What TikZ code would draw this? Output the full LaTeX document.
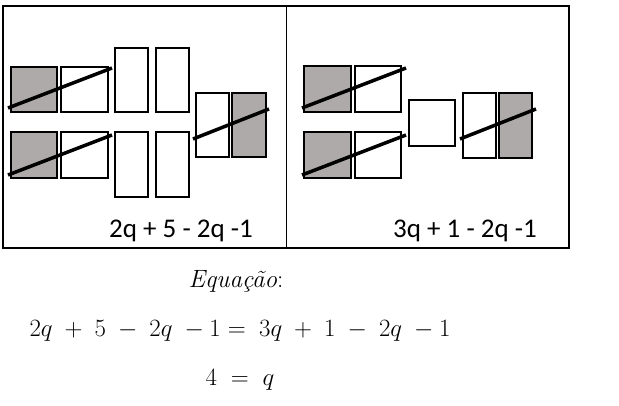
\documentclass[tikz,border=0pt]{standalone}
\usepackage{fontspec}
\newfontfamily\boxfont{Carlito}
\usetikzlibrary{positioning}

\definecolor{tilegray}{RGB}{174,170,170}
\newcommand{\eqsp}{\hspace{6.5pt}}

\begin{document}
\begin{tikzpicture}[
        x=1pt, y=-1pt,
        postile/.style={draw, line width=2pt, fill=white},
        negtile/.style={draw, line width=2pt, fill=tilegray},
        strike/.style={line width=3.5pt},
        frame/.style={line width=2pt},
        tally/.style={font=\boxfont\fontsize{27}{30}\selectfont, inner sep=0pt},
        eqn/.style={font=\fontsize{26}{30}\selectfont, inner sep=0pt}
    ]
    \useasboundingbox (0,0) rectangle (619,405);

    % Frame
    \draw[frame] (3,6) rectangle (569,248);
    \draw[line width=1pt] (286,6) -- (286,248);

    % Left side: 2q + 5 - 2q - 1
    \draw[negtile] (11,67) rectangle (57,112);
    \draw[postile] (61,67) rectangle (108,112);
    \draw[negtile] (11,132) rectangle (57,178);
    \draw[postile] (61,132) rectangle (108,178);
    \draw[postile] (115,48) rectangle (148,112);
    \draw[postile] (156,48) rectangle (189,112);
    \draw[postile] (115,132) rectangle (148,197);
    \draw[postile] (156,132) rectangle (189,197);
    \draw[postile] (196,93) rectangle (229,157);
    \draw[negtile] (232,93) rectangle (266,157);
    \draw[strike] (8,108) -- (112,68);
    \draw[strike] (8,175) -- (112,135);
    \draw[strike] (193,139) -- (269,109);

    % Right side: 3q + 1 - 2q - 1
    \draw[negtile] (304,66) rectangle (351,112);
    \draw[postile] (355,66) rectangle (401,112);
    \draw[negtile] (304,132) rectangle (351,178);
    \draw[postile] (355,132) rectangle (401,178);
    \draw[postile] (409,100) rectangle (455,146);
    \draw[postile] (463,93) rectangle (496,158);
    \draw[negtile] (499,93) rectangle (532,158);
    \draw[strike] (302,108) -- (406,68);
    \draw[strike] (302,175) -- (406,135);
    \draw[strike] (460,139) -- (536,109);

    % Labels
    \node[tally] (leftsum) at (181,231) {2q + 5 - 2q -1};
    \node[tally] (rightsum) at (465,231) {3q + 1 - 2q -1};

    % Equation below
    \node[eqn, font=\fontsize{25}{30}\selectfont] (title) at (236,281) {\textit{Equação}:};
    \node[eqn] (full) at (240,331) {$2q\eqsp+\eqsp5\eqsp-\eqsp2q\eqsp-1 =\eqsp3q\eqsp+\eqsp1\eqsp-\eqsp2q\eqsp-1$};
    \node[eqn] (result) at (240,380) {$4\hspace{7pt}=\hspace{7pt}q$};

\end{tikzpicture}
\end{document}
